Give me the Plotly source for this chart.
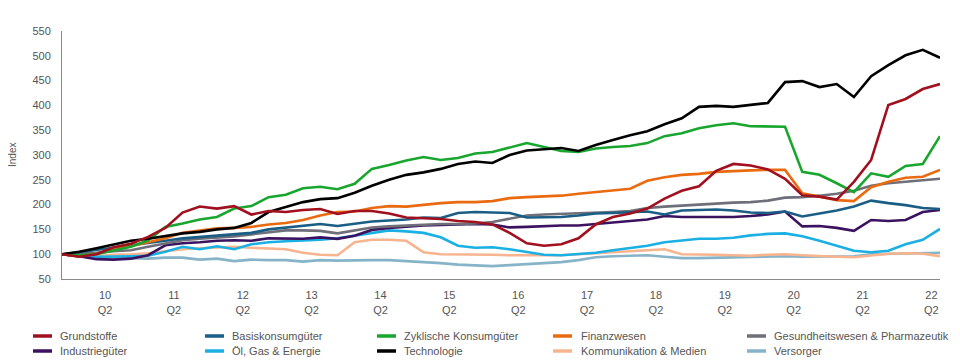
import plotly.graph_objects as go

# quarterly index values (start = 100), 52 quarters
quarters = list(range(52))

grundstoffe = [100, 95, 100, 114, 121, 135, 153, 184, 196, 192, 197, 180, 187, 185, 189, 191,
               181, 187, 187, 182, 174, 172, 171, 167, 165, 160, 143, 122, 117, 120, 132, 160,
               175, 182, 192, 212, 228, 237, 268, 282, 279, 271, 252, 219, 216, 210, 246, 290,
               401, 413, 433, 443]
basiskonsum = [100, 104, 108, 113, 118, 122, 127, 132, 135, 137, 141, 143, 150, 154, 157, 161,
               157, 162, 166, 168, 170, 174, 173, 183, 185, 184, 183, 174, 174, 175, 178, 182,
               183, 184, 186, 180, 188, 189, 190, 188, 184, 183, 186, 176, 182, 188, 196, 208,
               203, 199, 193, 191]
zyklisch = [100, 98, 100, 108, 115, 128, 155, 162, 170, 175, 192, 197, 215, 220, 233, 236,
            231, 242, 272, 280, 289, 296, 290, 294, 303, 306, 315, 324, 316, 308, 306, 313,
            316, 318, 324, 338, 344, 354, 360, 364, 358, 358, 357, 266, 260, 243, 225, 263,
            256, 278, 282, 338]
finanz = [100, 96, 101, 110, 116, 124, 132, 143, 148, 152, 153, 155, 160, 163, 169, 178,
          185, 186, 193, 197, 196, 200, 203, 205, 205, 207, 213, 215, 216, 218, 222, 225,
          228, 232, 248, 255, 260, 262, 266, 268, 269, 270, 270, 223, 216, 209, 207, 235,
          246, 254, 256, 270]
gesundheit = [100, 101, 103, 106, 108, 115, 122, 128, 131, 133, 136, 140, 144, 148, 148, 147,
              142, 148, 154, 156, 158, 160, 161, 161, 162, 165, 171, 178, 180, 181, 182, 183,
              185, 187, 193, 196, 198, 201, 202, 204, 205, 208, 214, 215, 218, 222, 228, 238,
              243, 246, 250, 252]
industrie = [100, 96, 90, 89, 91, 98, 118, 122, 124, 127, 128, 127, 132, 131, 131, 134,
             131, 137, 149, 153, 156, 158, 159, 160, 161, 160, 154, 155, 157, 158, 158, 161,
             164, 166, 170, 177, 175, 175, 175, 175, 177, 180, 186, 156, 157, 153, 147, 169,
             167, 169, 185, 189]
oel_gas = [100, 96, 95, 95, 96, 97, 105, 115, 110, 116, 110, 120, 124, 126, 127, 129,
           132, 137, 142, 148, 146, 143, 134, 117, 113, 114, 110, 104, 99, 98, 100, 103,
           108, 112, 117, 124, 128, 131, 131, 133, 138, 141, 142, 136, 127, 117, 107, 104,
           107, 120, 129, 151]
technologie = [100, 105, 112, 120, 127, 131, 137, 142, 145, 150, 153, 163, 185, 195, 205, 211,
               213, 224, 238, 250, 260, 265, 272, 282, 287, 284, 300, 309, 311, 314, 308, 320,
               330, 340, 348, 362, 374, 397, 399, 397, 401, 405, 447, 449, 437, 443, 417, 459,
               481, 501, 512, 496]
kommunikation = [100, 95, 96, 99, 100, 102, 106, 110, 112, 114, 115, 113, 112, 110, 103, 99,
                 98, 124, 129, 129, 127, 104, 100, 100, 100, 99, 98, 98, 98, 98, 100, 102,
                 104, 106, 108, 110, 100, 100, 99, 98, 97, 99, 100, 98, 96, 95, 94, 98,
                 101, 102, 101, 96]
versorger = [100, 96, 94, 93, 92, 91, 93, 93, 89, 91, 86, 89, 88, 88, 85, 88,
             87, 88, 88, 88, 86, 85, 82, 79, 77, 76, 78, 80, 82, 84, 88, 94,
             96, 97, 98, 95, 92, 92, 93, 94, 95, 96, 96, 95, 95, 95, 96, 100,
             101, 102, 102, 103]

year_labels = ["10", "11", "12", "13", "14", "15", "16", "17", "18", "19", "20", "21", "22"]
tick_positions = [2.5 + 4 * k for k in range(len(year_labels))]

series = [
    ("Grundstoffe", grundstoffe, "#a0101e"),
    ("Basiskonsumgüter", basiskonsum, "#1b5e85"),
    ("Zyklische Konsumgüter", zyklisch, "#19a62f"),
    ("Finanzwesen", finanz, "#ea6a10"),
    ("Gesundheitswesen & Pharmazeutik", gesundheit, "#6e6f78"),
    ("Industriegüter", industrie, "#3b1260"),
    ("Öl, Gas & Energie", oel_gas, "#1bb0e4"),
    ("Technologie", technologie, "#000000"),
    ("Kommunikation & Medien", kommunikation, "#f7b48e"),
    ("Versorger", versorger, "#86b3c8"),
]
draw_order = ["Versorger", "Kommunikation & Medien", "Öl, Gas & Energie", "Industriegüter",
              "Gesundheitswesen & Pharmazeutik", "Basiskonsumgüter", "Finanzwesen",
              "Zyklische Konsumgüter", "Technologie", "Grundstoffe"]

# page body adds an 8px offset; figure is sized so the plot lands where the reference has it
OFF = 8
W, H = 960 - OFF, 362 - OFF
PLOT_L, PLOT_R, PLOT_T, PLOT_B = 62, 940, 31, 279   # reference-pixel plot box
L, R = PLOT_L - OFF, W - (PLOT_R - OFF)
T, B = PLOT_T - OFF, H - (PLOT_B - OFF)
PW, PH = PLOT_R - PLOT_L, PLOT_B - PLOT_T

def px_x(px):
    return (px - PLOT_L) / PW

def px_y(py):
    return (PLOT_B - py) / PH

fig = go.Figure()
lookup = {s[0]: s for s in series}
for name in draw_order:
    n, vals, col = lookup[name]
    fig.add_trace(go.Scatter(x=quarters, y=vals, mode="lines", name=n,
                             line=dict(color=col, width=2.6), showlegend=False))

font = dict(family="Liberation Sans, Arial, sans-serif", size=11, color="#555555")

# manual legend (2 rows x 5 columns)
sample_x = [33, 205, 377, 553, 747]
text_x = [58, 230, 402, 579, 772]
row_y = [336, 351]
shapes = []
annotations = []
for idx, (n, vals, col) in enumerate(series):
    c = idx % 5
    r = idx // 5
    shapes.append(dict(type="line", xref="paper", yref="paper",
                       x0=px_x(sample_x[c]), x1=px_x(sample_x[c] + 19),
                       y0=px_y(row_y[r]), y1=px_y(row_y[r]),
                       line=dict(color=col, width=3.5)))
    annotations.append(dict(text=n, xref="paper", yref="paper", x=px_x(text_x[c]),
                            y=px_y(row_y[r]), xanchor="left", yanchor="middle",
                            showarrow=False, font=dict(font, size=11)))

annotations.append(dict(text="Index", xref="paper", yref="paper", x=px_x(12), y=px_y(155),
                        textangle=-90, showarrow=False, xanchor="center", yanchor="middle",
                        font=dict(font, size=10)))

fig.update_layout(
    width=W, height=H,
    margin=dict(l=L, r=R, t=T, b=B),
    paper_bgcolor="white", plot_bgcolor="white",
    font=font,
    shapes=shapes,
    annotations=annotations,
    xaxis=dict(range=[0, 51], tickmode="array", tickvals=tick_positions,
               ticktext=[f"{y}<br>Q2" for y in year_labels],
               showgrid=False, zeroline=False, showline=True, linecolor="#8a8a8a",
               linewidth=1, ticks="", tickfont=dict(font, size=11), ticklabelstandoff=6),
    yaxis=dict(range=[50, 550], tickmode="array", tickvals=list(range(50, 551, 50)),
               showgrid=False, zeroline=False, showline=True, linecolor="#8a8a8a",
               linewidth=1, ticks="", tickfont=dict(font, size=11), ticklabelstandoff=8),
)

fig.write_html("out.html")
